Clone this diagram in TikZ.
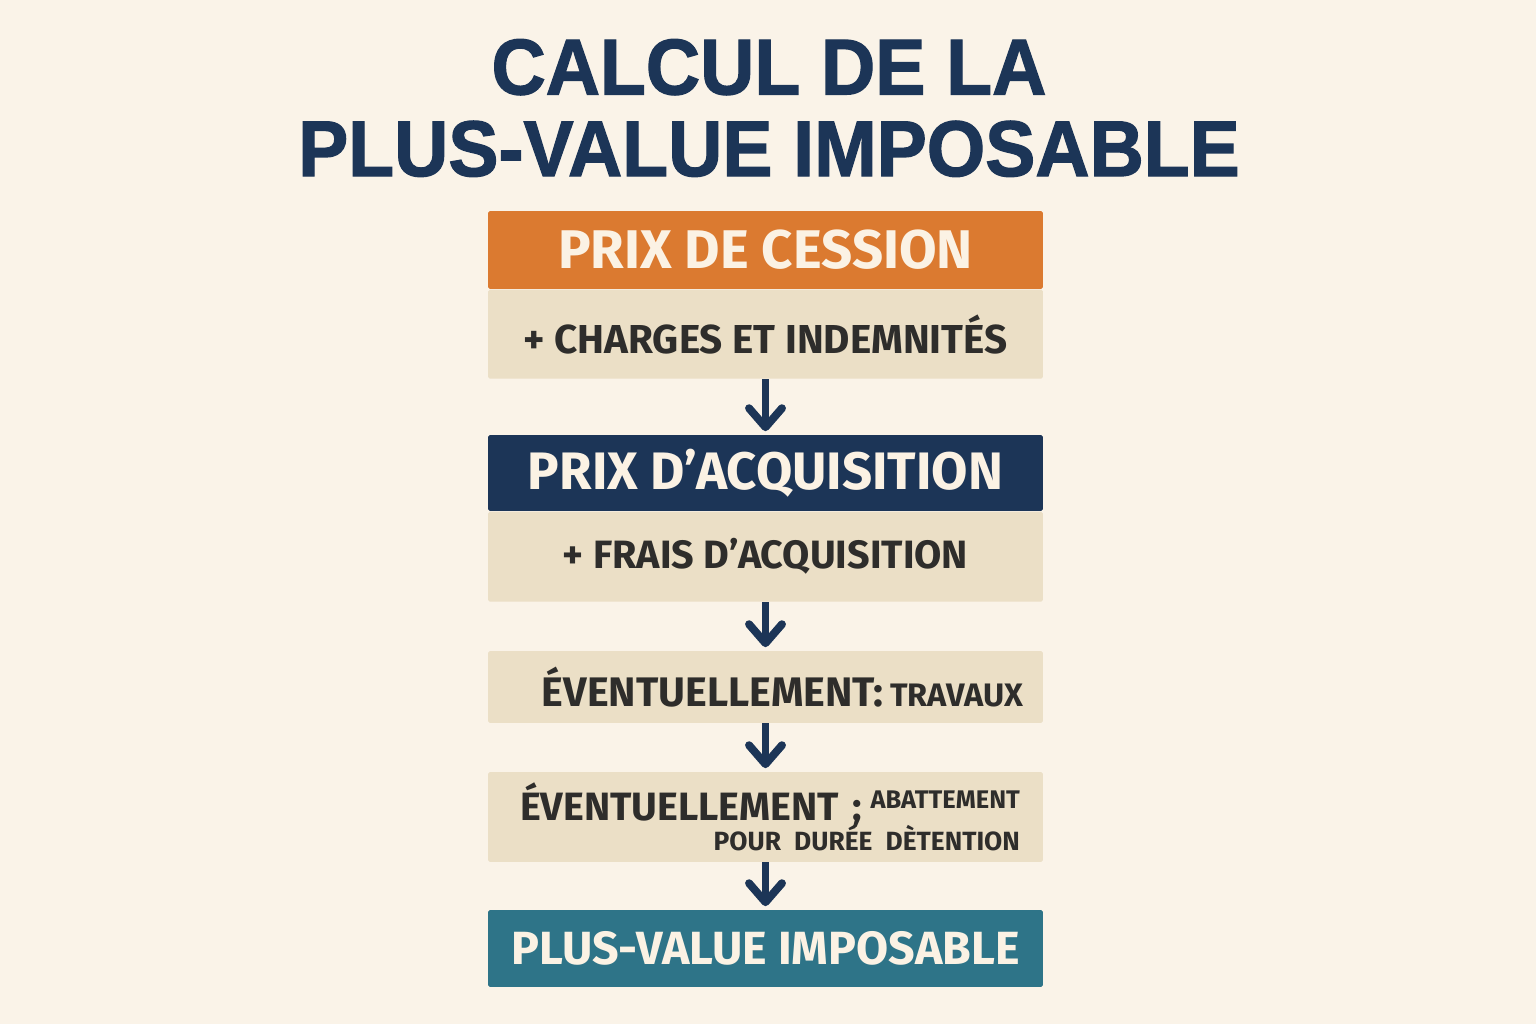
\documentclass[tikz,border=0pt]{standalone}
\usepackage{fontspec}
\setmainfont{Fira Sans}
\newfontfamily\titlefont[FakeBold=1.6]{Liberation Sans}
\usetikzlibrary{positioning,arrows.meta}

\definecolor{bg}{HTML}{FAF3E8}
\definecolor{navy}{HTML}{1C3557}
\definecolor{orangec}{HTML}{DB7A30}
\definecolor{beige}{HTML}{EBDFC6}
\definecolor{tealc}{HTML}{2E7488}
\definecolor{ink}{HTML}{2E2D2B}
\definecolor{cream}{HTML}{FBF2E4}

\begin{document}
\begin{tikzpicture}[
x=0.02cm, y=-0.02cm,
title/.style={text=navy, align=center, font=\titlefont\bfseries\fontsize{45}{46.5}\selectfont},
header/.style={rectangle, rounded corners=1pt, text=cream, inner sep=0pt,
  minimum width=11.1cm, font=\bfseries\fontsize{30}{36}\selectfont},
sub/.style={rectangle, rounded corners=1pt, fill=beige, text=ink, inner sep=0pt,
  minimum width=11.1cm, font=\bfseries\fontsize{23}{28}\selectfont},
arrow/.style={navy, line width=4.5pt, shorten >=2pt,
  -{Straight Barb[length=3.8mm, width=6.6mm, line cap=round, line join=round]}}
]

\useasboundingbox[fill=bg] (0,0) rectangle (1536,1024);

\node[title] (titre) at (769,108) {\scalebox{0.95}[1]{CALCUL DE LA}\\\scalebox{0.95}[1]{PLUS-VALUE IMPOSABLE}};

\node[header, fill=orangec, minimum height=1.56cm, font=\bfseries\fontsize{31}{36}\selectfont] (cession) at (765.5,250) {PRIX DE CESSION};
\node[sub, minimum height=1.78cm, below=0pt of cession] (charges) {+ CHARGES ET INDEMNITÉS};

\node[header, fill=navy, minimum height=1.52cm] (acquis) at (765.5,473) {PRIX D’ACQUISITION};
\node[sub, minimum height=1.8cm, below=0pt of acquis, font=\bfseries\fontsize{22.5}{28}\selectfont] (frais) {+ FRAIS D’ACQUISITION};

\node[sub, minimum height=1.44cm, text width=10.3cm, align=right,
  font=\bfseries\fontsize{23.5}{28}\selectfont] (travaux) at (765.5,687)
  {ÉVENTUELLEMENT:\,{\fontsize{18.5}{22}\selectfont TRAVAUX}};

\node[sub, minimum height=1.8cm, text width=10.18cm, align=right,
  font=\bfseries\fontsize{22.5}{28}\selectfont] (abattement) at (765.5,817)
  {\mbox{ÉVENTUELLEMENT ;\hspace{5pt}\raisebox{6.8pt}{\fontsize{14.5}{18}\selectfont ABATTEMENT}}\\[-11pt]
   \mbox{\fontsize{15}{18}\selectfont POUR DURÉE DÈTENTION}};

\node[header, fill=tealc, minimum height=1.54cm, font=\bfseries\fontsize{26.5}{32}\selectfont] (plusvalue) at (765.5,948.5) {PLUS-VALUE IMPOSABLE};

\draw[arrow] (charges) -- (acquis);
\draw[arrow] (frais) -- (travaux);
\draw[arrow] (travaux) -- (abattement);
\draw[arrow] (abattement) -- (plusvalue);
\end{tikzpicture}
\end{document}
